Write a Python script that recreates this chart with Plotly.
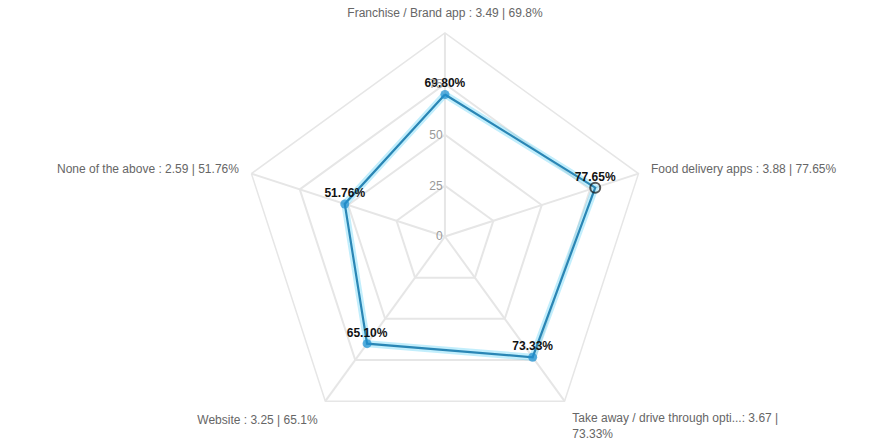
import plotly.graph_objects as go

categories = [
    "Franchise / Brand app : 3.49 | 69.8%",
    "Food delivery apps : 3.88 | 77.65%",
    "Take away / drive through opti...: 3.67 |<br>73.33%",
    "Website : 3.25 | 65.1%",
    "None of the above : 2.59 | 51.76%",
]
values = [69.80, 77.65, 73.33, 65.10, 51.76]
value_labels = ["69.80%", "77.65%", "73.33%", "65.10%", "51.76%"]
radial_ticks = [0, 25, 50, 75, 100]
radial_ticktext = ["0", "25", "50", "75", ""]

theta_closed = categories + categories[:1]
r_closed = values + values[:1]

symbols = ["circle", "circle-open", "circle", "circle", "circle"]
mcolors = ["#1f8fcf", "#111111", "#1f8fcf", "#1f8fcf", "#1f8fcf"]
msizes = [9, 10, 9, 9, 9]
mline = [0, 2, 0, 0, 0]

fig = go.Figure()
# soft glow under the line
fig.add_trace(go.Scatterpolar(
    r=r_closed, theta=theta_closed, mode="lines",
    line=dict(color="rgba(80,205,245,0.35)", width=7),
    hoverinfo="skip", showlegend=False,
))
fig.add_trace(go.Scatterpolar(
    r=r_closed, theta=theta_closed, mode="lines",
    line=dict(color="#2a86b5", width=2.2),
    hoverinfo="skip", showlegend=False,
))
fig.add_trace(go.Scatterpolar(
    r=values, theta=categories, mode="markers",
    marker=dict(symbol=symbols, color=mcolors, size=msizes,
                line=dict(width=mline, color="#111111")),
    showlegend=False,
))
fig.add_trace(go.Scatterpolar(
    r=values, theta=categories, mode="markers+text",
    marker=dict(size=5, color="rgba(0,0,0,0)"),
    text=value_labels, textposition="top center",
    textfont=dict(family="Liberation Sans", size=12, color="#111111", weight="bold"),
    hoverinfo="skip", showlegend=False,
))

fig.update_layout(
    width=877, height=440,
    margin=dict(l=0, r=0, t=0, b=0),
    paper_bgcolor="white",
    font=dict(family="Liberation Sans", size=12, color="#666666"),
    polar=dict(
        domain=dict(x=[0.0147, 1.0], y=[0.0, 0.925]),
        bgcolor="white",
        gridshape="linear",
        angularaxis=dict(
            type="category", direction="clockwise", rotation=90,
            linecolor="#e6e6e6", linewidth=1.5,
            gridcolor="#e6e6e6", gridwidth=1.5,
            ticks="outside", ticklen=10, tickcolor="rgba(0,0,0,0)", showline=True,
            tickfont=dict(family="Liberation Sans", size=12, color="#666666"),
        ),
        radialaxis=dict(
            range=[0, 100], tickvals=radial_ticks, ticktext=radial_ticktext,
            showline=False, gridcolor="#e6e6e6", gridwidth=1.5,
            ticks="", angle=90, tickangle=90, side="counterclockwise",
            tickfont=dict(family="Liberation Sans", size=12, color="#999999"),
        ),
    ),
)

fig.write_html("out.html")
